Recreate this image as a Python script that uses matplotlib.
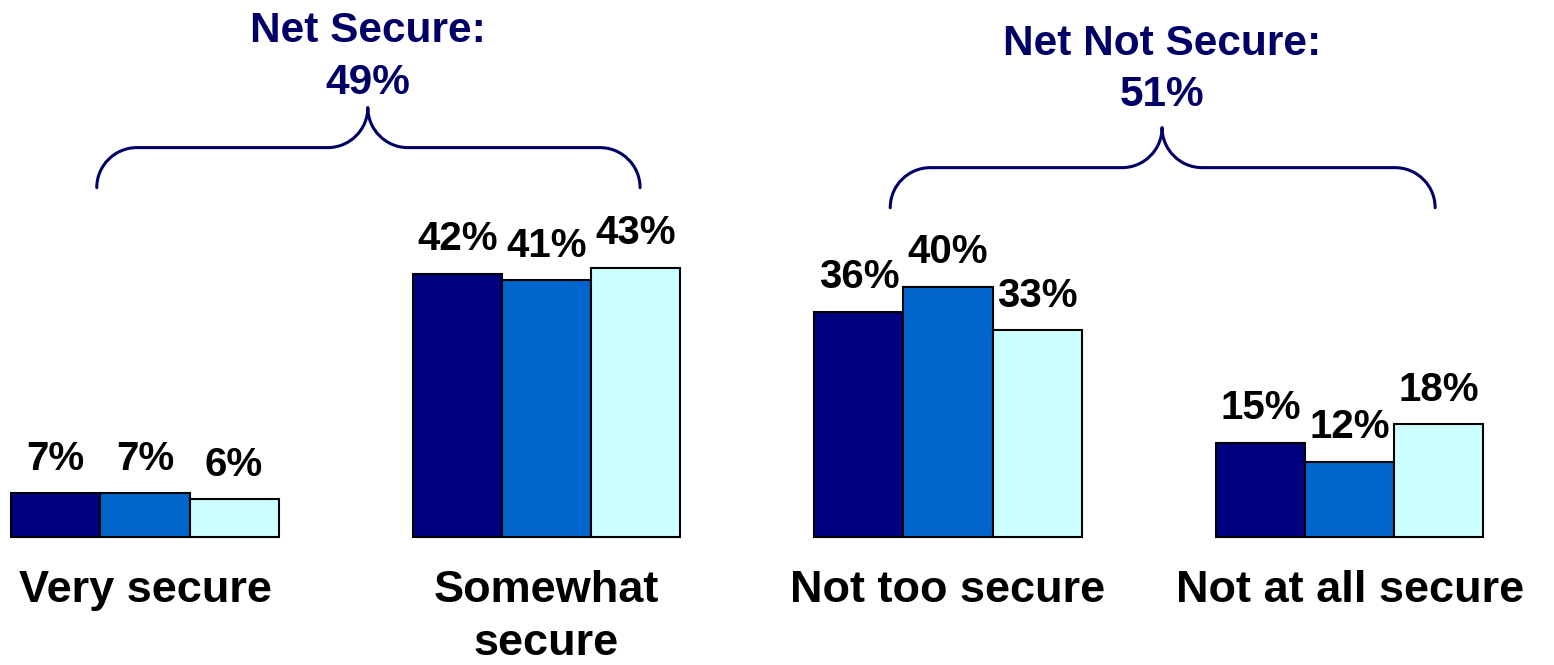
import numpy as np
import matplotlib
matplotlib.use("Agg")
import matplotlib.pyplot as plt
from matplotlib.path import Path
from matplotlib.patches import PathPatch

categories = ["Very secure", "Somewhat\nsecure", "Not too secure", "Not at all secure"]
series_a = [7, 42, 36, 15]
series_b = [7, 41, 40, 12]
series_c = [6, 43, 33, 18]
net_labels = ["Net Secure:\n49%", "Net Not Secure:\n51%"]

colors = ["#000080", "#0066CC", "#CCFFFF"]
navy = "#000066"
font = "Liberation Sans"
K = 0.5523  # bezier constant for quarter circles


def draw_brace(ax, x0, x1, xm, y, rx, ry):
    # curly brace opening downward: ends at y, arms at y+ry, tip at y+2*ry
    ya, yt = y + ry, y + 2 * ry
    verts = [
        (x0, y), (x0, y + K * ry), (x0 + rx - K * rx, ya), (x0 + rx, ya),
        (xm - rx, ya),
        (xm - rx + K * rx, ya), (xm, yt - K * ry), (xm, yt),
        (xm, yt - K * ry), (xm + rx - K * rx, ya), (xm + rx, ya),
        (x1 - rx, ya),
        (x1 - rx + K * rx, ya), (x1, y + K * ry), (x1, y),
    ]
    codes = [Path.MOVETO, Path.CURVE4, Path.CURVE4, Path.CURVE4,
             Path.LINETO,
             Path.CURVE4, Path.CURVE4, Path.CURVE4,
             Path.CURVE4, Path.CURVE4, Path.CURVE4,
             Path.LINETO,
             Path.CURVE4, Path.CURVE4, Path.CURVE4]
    ax.add_patch(PathPatch(Path(verts, codes), fill=False, edgecolor=navy,
                           linewidth=2.2, capstyle="round", joinstyle="round"))


fig = plt.figure(figsize=(15.54, 6.65), dpi=100)
ax = fig.add_axes([0, 0, 1, 1])
ax.set_xlim(-0.361, 3.509)
ax.set_ylim(-20.45, 85.78)
ax.axis("off")

x = np.arange(len(categories))
width = 0.222
for i, vals in enumerate([series_a, series_b, series_c]):
    pos = x + (i - 1) * width
    ax.bar(pos, vals, width, color=colors[i], edgecolor="black", linewidth=1.5)
    for px, v in zip(pos, vals):
        ax.annotate(f"{v}%", (px, v), xytext=(0, 17), textcoords="offset points",
                    ha="center", va="baseline", fontsize=29, fontweight="bold",
                    family=font)

for xi, cat in zip(x, categories):
    ax.annotate(cat, (xi, 0), xytext=(0, -24), textcoords="offset points",
                ha="center", va="top", fontsize=32.5, fontweight="bold",
                family=font, linespacing=1.35)

# brackets grouping secure / not secure answers
draw_brace(ax, -0.12, 1.233, 0.555, 55.8, 0.1, 6.4)
draw_brace(ax, 1.856, 3.213, 2.533, 52.6, 0.1, 6.4)

ax.text(0.555, 84.0, net_labels[0], ha="center", va="top", fontsize=30.5,
        fontweight="bold", color=navy, family=font, linespacing=1.38)
ax.text(2.533, 82.0, net_labels[1], ha="center", va="top", fontsize=30.5,
        fontweight="bold", color=navy, family=font, linespacing=1.38)

fig.savefig("out.png", dpi=100)
